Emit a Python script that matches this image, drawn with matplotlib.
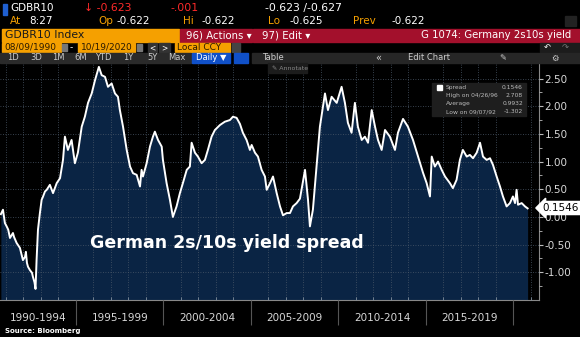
import matplotlib
matplotlib.use('Agg')
import matplotlib.pyplot as plt
from matplotlib.patches import Rectangle

# German 2s10s spread (decimal years, %)
years = [1990.71, 1990.83, 1990.94, 1991.04, 1991.13, 1991.23, 1991.40, 1991.46, 1991.61, 1991.80,
         1991.97, 1992.09, 1992.14, 1992.20, 1992.26, 1992.37, 1992.49, 1992.54, 1992.63, 1992.69,
         1992.75, 1992.83, 1992.94, 1993.04, 1993.11, 1993.23, 1993.33, 1993.51, 1993.69, 1993.90,
         1994.09, 1994.26, 1994.37, 1994.54, 1994.75, 1994.94, 1995.11, 1995.33, 1995.51, 1995.69,
         1995.90, 1996.09, 1996.31, 1996.47, 1996.66, 1996.83, 1997.04, 1997.23, 1997.40, 1997.51,
         1997.69, 1997.90, 1998.09, 1998.26, 1998.47, 1998.66, 1998.75, 1998.83, 1999.04, 1999.23,
         1999.40, 1999.51, 1999.69, 1999.90, 1999.97, 2000.18, 2000.37, 2000.54, 2000.75, 2000.94,
         2001.11, 2001.33, 2001.51, 2001.61, 2001.80, 2001.97, 2002.18, 2002.37, 2002.54, 2002.75,
         2002.94, 2003.23, 2003.51, 2003.80, 2003.97, 2004.18, 2004.37, 2004.54, 2004.75, 2004.94,
         2005.04, 2005.23, 2005.40, 2005.61, 2005.80, 2005.90, 2006.09, 2006.26, 2006.47, 2006.66,
         2006.83, 2007.04, 2007.23, 2007.40, 2007.61, 2007.80, 2008.09, 2008.26, 2008.37, 2008.54,
         2008.75, 2008.94, 2009.23, 2009.40, 2009.61, 2009.90, 2010.18, 2010.37, 2010.54, 2010.75,
         2010.94, 2011.11, 2011.33, 2011.51, 2011.69, 2011.90, 2012.09, 2012.26, 2012.47, 2012.66,
         2012.94, 2013.23, 2013.40, 2013.69, 2013.97, 2014.26, 2014.54, 2014.83, 2015.04, 2015.23,
         2015.33, 2015.51, 2015.69, 2015.90, 2016.09, 2016.37, 2016.54, 2016.75, 2016.94, 2017.11,
         2017.33, 2017.51, 2017.69, 2017.90, 2018.09, 2018.26, 2018.47, 2018.66, 2018.83, 2019.04,
         2019.23, 2019.40, 2019.61, 2019.80, 2019.97, 2020.09, 2020.18, 2020.26, 2020.47, 2020.66,
         2020.81]
spread = [0.05, 0.13, -0.11, -0.17, -0.23, -0.38, -0.29, -0.36, -0.47, -0.56,
          -0.78, -0.72, -0.63, -0.83, -0.90, -0.96, -1.01, -1.08, -1.18, -1.30,
          -0.78, -0.23, 0.07, 0.31, 0.36, 0.46, 0.49, 0.58, 0.43, 0.61,
          0.70, 1.03, 1.45, 1.21, 1.39, 0.97, 1.16, 1.63, 1.81, 2.06,
          2.23, 2.47, 2.71, 2.56, 2.53, 2.35, 2.41, 2.23, 2.17, 1.93,
          1.63, 1.21, 0.91, 0.79, 0.76, 0.55, 0.85, 0.73, 0.97, 1.27,
          1.45, 1.54, 1.39, 1.27, 1.03, 0.61, 0.31, 0.00, 0.19, 0.43,
          0.61, 0.85, 0.91, 1.34, 1.16, 1.09, 0.97, 1.03, 1.21, 1.45,
          1.57, 1.66, 1.72, 1.75, 1.81, 1.79, 1.68, 1.52, 1.39, 1.21,
          1.30, 1.16, 1.09, 0.85, 0.73, 0.49, 0.61, 0.73, 0.43, 0.19,
          0.03, 0.07, 0.07, 0.19, 0.25, 0.33, 0.85, 0.31, -0.17, 0.13,
          0.91, 1.63, 2.23, 1.93, 2.17, 2.06, 2.35, 2.06, 1.70, 1.52,
          2.06, 1.63, 1.39, 1.45, 1.34, 1.93, 1.63, 1.39, 1.21, 1.57,
          1.45, 1.21, 1.52, 1.77, 1.63, 1.39, 1.10, 0.80, 0.61, 0.37,
          1.09, 0.91, 1.00, 0.85, 0.73, 0.61, 0.52, 0.67, 1.03, 1.21,
          1.09, 1.12, 1.06, 1.16, 1.34, 1.09, 1.03, 1.06, 0.94, 0.73,
          0.55, 0.37, 0.19, 0.25, 0.37, 0.25, 0.49, 0.22, 0.25, 0.19,
          0.1546]

period_starts = [1995, 2000, 2005, 2010, 2015, 2020]
period_labels = ['1990-1994', '1995-1999', '2000-2004', '2005-2009', '2010-2014', '2015-2019']
y_ticks = [-1.0, -0.5, 0.0, 0.5, 1.0, 1.5, 2.0, 2.5]

W, H = 580, 337
NAVY = '#0a2444'
ORANGE = '#f5a000'
RED_BAR = '#a3102c'
GREY_TXT = '#d8d8d8'


def fx(x):
    return x / W


def fy(y):
    return 1 - y / H


def box(x0, y0, x1, y1, color):
    fig.patches.append(Rectangle((fx(x0), fy(y1)), (x1 - x0) / W, (y1 - y0) / H,
                                 transform=fig.transFigure, color=color, zorder=0))


def txt(x, y, s, color='white', size=8, ha='left', weight='normal', **kw):
    fig.text(fx(x), fy(y), s, color=color, fontsize=size, ha=ha, va='center',
             fontweight=weight, **kw)


fig = plt.figure(figsize=(5.8, 3.37), dpi=100, facecolor='black')

# ---- header rows ----
box(3, 4, 7, 15, '#1f5fd0')
txt(10, 8, 'GDBR10', size=7.5)
txt(84, 8, '\u2193 -0.623', color='#ff2a2a', size=7.8)
txt(170, 8, '-.001', color='#ff2a2a', size=7.8)
txt(265, 8, '-0.623 /-0.627', size=7.8)

txt(10, 21, 'At', color=ORANGE, size=7.5)
txt(29, 21, '8:27', size=7.5)
txt(98, 21, 'Op', color=ORANGE, size=7.5)
txt(117, 21, '-0.622', size=7.5)
txt(183, 21, 'Hi', color=ORANGE, size=7.5)
txt(202, 21, '-0.622', size=7.5)
txt(268, 21, 'Lo', color=ORANGE, size=7.5)
txt(289, 21, '-0.625', size=7.5)
txt(353, 21, 'Prev', color=ORANGE, size=7.5)
txt(392, 21, '-0.622', size=7.5)
box(565, 16, 576, 26, '#222222')

box(2, 29, 179, 42, ORANGE)
txt(5, 35.5, 'GDBR10 Index', color='#1a1a1a', size=7.8)
box(180, 29, 252, 42, RED_BAR)
txt(186, 35.5, '96) Actions \u25be', size=7.3)
box(253, 29, 580, 42, RED_BAR)
txt(262, 35.5, '97) Edit \u25be', size=7.3)
txt(571, 35.5, 'G 1074: Germany 2s10s yield', size=7.3, ha='right')

box(2, 43, 61, 52, ORANGE)
txt(4, 47.5, '08/09/1990', color='#2a1a00', size=6.5)
box(62, 44, 67, 51, '#777777')
txt(70, 47.5, '-', size=6.5)
box(78, 43, 135, 52, ORANGE)
txt(81, 47.5, '10/19/2020', color='#2a1a00', size=6.5)
box(137, 44, 142, 51, '#777777')
box(148, 43, 157, 52, '#333333')
txt(152.5, 47.5, '<', size=5.5, ha='center')
box(159, 43, 170, 52, '#333333')
txt(164.5, 47.5, '>', size=5.5, ha='center')
box(175, 43, 230, 52, ORANGE)
txt(177, 47.5, 'Local CCY', color='#2a1a00', size=6.5)
box(232, 43, 240, 52, '#444444')
box(540, 43, 580, 52, '#1c1c1c')
txt(547, 47.5, '\u21b6', size=6, ha='center')
txt(565, 47.5, '\u21b7', color='#777777', size=6, ha='center')

box(0, 53, 191, 63, '#2a2a2a')
for lbl, cx in zip(['1D', '3D', '1M', '6M', 'YTD', '1Y', '5Y', 'Max'],
                   [13, 36, 58, 81, 103, 128, 152, 177]):
    txt(cx, 58, lbl, color='#cccccc', size=6, ha='center')
box(192, 53, 230, 63, '#1050c8')
txt(211, 58, 'Daily \u25bc', size=6, ha='center')
box(234, 53, 248, 63, '#1050c8')
box(252, 53, 580, 63, '#262626')
txt(262, 58, 'Table', color='#cccccc', size=6)
txt(378, 58, '\u00ab', color='#cccccc', size=7, ha='center')
txt(408, 58, 'Edit Chart', color='#cccccc', size=6)
txt(503, 58, '\u270e', color='#cccccc', size=6, ha='center')
txt(555, 58, '\u2699', color='#cccccc', size=6, ha='center')

# ---- chart ----
ax = fig.add_axes([fx(0), fy(300), fx(539), (300 - 63) / H])
ax.set_facecolor('black')
x_left, x_right = 1990.66, 2021.46
y_bot, y_top = -1.5, 2.78
ax.set_xlim(x_left, x_right)
ax.set_ylim(y_bot, y_top)

ax.fill_between(years, spread, y_bot, color=NAVY, lw=0, zorder=1)
ax.plot(years, spread, color='white', lw=1.4, zorder=3)

ax.set_axisbelow(False)
ax.set_xticks(period_starts)
ax.set_xticks(range(1991, 2022), minor=True)
ax.set_xticklabels([])
ax.set_yticks(y_ticks)
ax.set_yticks([v / 4 for v in range(-5, 11)], minor=True)
ax.set_yticklabels([f'{v:.2f}' for v in y_ticks])
ax.yaxis.tick_right()
ax.grid(True, which='major', axis='y', color='#4a5868', ls=(0, (1, 2)), lw=0.6)
ax.grid(True, which='minor', axis='x', color='#4a5868', ls=(0, (1, 2)), lw=0.6)

ax.tick_params(axis='x', which='major', direction='out', length=18, width=0.8,
               color='#555555')
ax.tick_params(axis='x', which='minor', direction='in', length=2.5, color='#8090a0')
ax.tick_params(axis='y', which='major', direction='out', length=3, color='#bbbbbb',
               labelcolor=GREY_TXT, labelsize=7.5, pad=1)
ax.tick_params(axis='y', which='minor', direction='out', length=2, color='#bbbbbb')
for s in ['top', 'left']:
    ax.spines[s].set_visible(False)
ax.spines['bottom'].set_color('#888888')
ax.spines['right'].set_color('#888888')

starts = [x_left] + period_starts[:-1]
for lbl, s0, s1 in zip(period_labels, starts, period_starts):
    ax.text((s0 + s1) / 2, -0.055, lbl, transform=ax.get_xaxis_transform(),
            ha='center', va='top', color=GREY_TXT, fontsize=7.5)

ax.text(2003.6, -0.47, 'German 2s/10s yield spread', color='white', fontsize=12.5,
        fontweight='bold', ha='center', va='center', zorder=5)

# last value tag
fig.text(fx(561), fy(208), f'{spread[-1]:.4f}', color='black', fontsize=7.5,
         ha='center', va='center',
         bbox=dict(boxstyle='larrow,pad=0.15', fc='white', ec='white'))

# legend panel
box(432, 83, 526, 116, '#1e1e1e')
legend_rows = [('Spread', '0.1546'), ('High on 04/26/96', '2.708'),
               ('Average', '0.9932'), ('Low on 09/07/92', '-1.302')]
box(437, 85, 442, 90, 'white')
for i, (name, val) in enumerate(legend_rows):
    yy = 87.5 + i * 8
    txt(446, yy, name, color='#bbbbbb', size=4.3)
    txt(523, yy, val, color='#bbbbbb', size=4.3, ha='right')

# annotate button
box(268, 63, 307, 73, '#1c1c1c')
txt(272, 68, '\u270e Annotate', color='#888888', size=4.5)

txt(5, 331, 'Source: Bloomberg', size=5, weight='bold')

fig.savefig('out.png', dpi=100, facecolor='black')
